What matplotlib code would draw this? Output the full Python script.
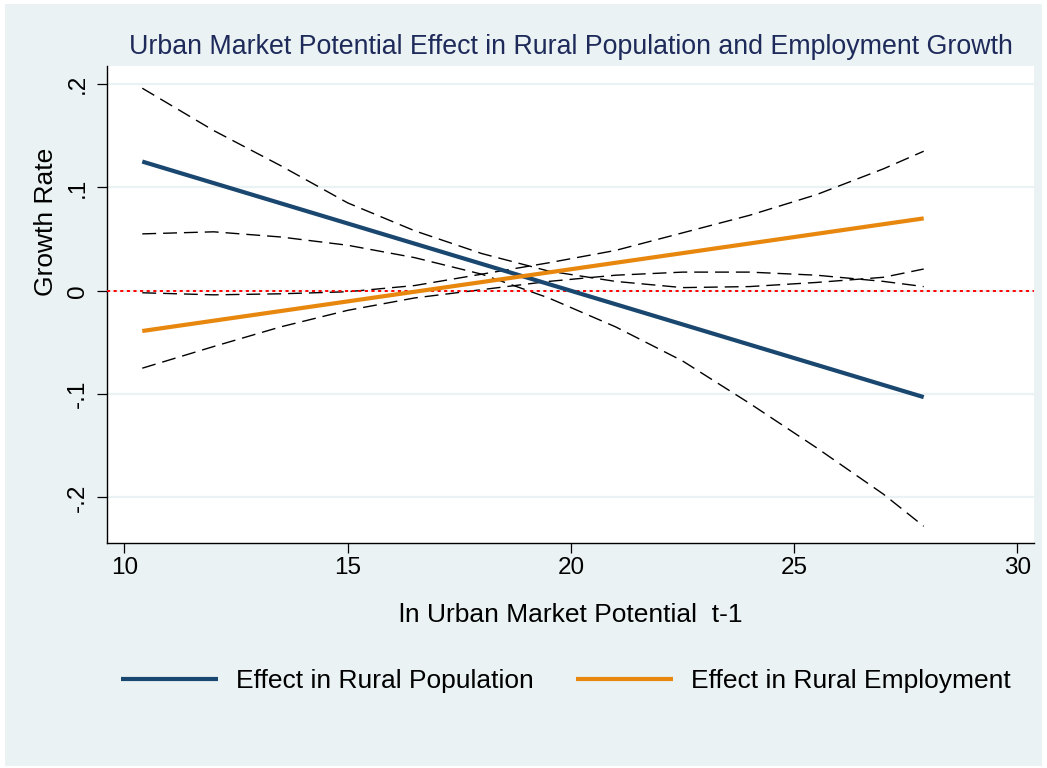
import numpy as np
import matplotlib
matplotlib.use('Agg')
import matplotlib.pyplot as plt
from matplotlib.patches import Rectangle

plt.rcParams['font.family'] = ['Liberation Sans', 'DejaVu Sans']

# point estimates (straight lines, end points)
x_ends = [10.4, 27.9]
pop_effect = [0.125, -0.103]
emp_effect = [-0.039, 0.070]

# confidence bands
x_ci = [10.4, 12, 13.5, 15, 16.5, 18, 19.5, 21, 22.5, 24, 25.5, 27, 27.9]
pop_upper = [0.196, 0.155, 0.121, 0.085, 0.058, 0.036, 0.019, 0.009, 0.003, 0.004, 0.008, 0.013, 0.021]
pop_lower = [0.055, 0.057, 0.052, 0.044, 0.032, 0.016, -0.007, -0.035, -0.068, -0.109, -0.152, -0.197, -0.228]
emp_upper = [-0.002, -0.004, -0.003, -0.001, 0.005, 0.016, 0.027, 0.039, 0.056, 0.073, 0.093, 0.118, 0.135]
emp_lower = [-0.075, -0.054, -0.035, -0.019, -0.007, 0.001, 0.009, 0.015, 0.018, 0.018, 0.015, 0.009, 0.004]

xticks = [10, 15, 20, 25, 30]
yticks = [0.2, 0.1, 0, -0.1, -0.2]
ytick_labels = ['.2', '.1', '0', '-.1', '-.2']

bg = '#EAF2F3'
blue = '#1A476F'
orange = '#E8870E'

fig = plt.figure(figsize=(10.47, 7.68), dpi=100)
fig.patch.set_facecolor('white')
fig.add_artist(Rectangle((5 / 1047, 2 / 768), 1037 / 1047, 762 / 768,
                         transform=fig.transFigure, facecolor=bg, edgecolor='none', zorder=0))

ax = fig.add_axes([107 / 1047, 1 - 543 / 768, (1034 - 107) / 1047, (543 - 66) / 768])
ax.set_facecolor('white')

for yv in yticks:
    ax.axhline(yv, color=bg, lw=1.6, zorder=1)

dash = (0, (10, 5))
for band in [pop_upper, pop_lower, emp_upper, emp_lower]:
    ax.plot(x_ci, band, color='black', lw=1.0, linestyle=dash, zorder=2)

ax.axhline(0, color='red', lw=1.4, linestyle=(0, (1.6, 1.8)), zorder=3)

l1, = ax.plot(x_ends, pop_effect, color=blue, lw=3.0, solid_capstyle='butt', zorder=4,
              label='Effect in Rural Population')
l2, = ax.plot(x_ends, emp_effect, color=orange, lw=3.0, solid_capstyle='butt', zorder=4,
              label='Effect in Rural Employment')

ax.set_xlim(9.61, 30.37)
ax.set_ylim(-0.2442, 0.2175)
ax.set_xticks(xticks)
ax.set_xticklabels([str(t) for t in xticks], fontsize=17.5)
ax.set_yticks(yticks)
ax.set_yticklabels(ytick_labels, fontsize=17.5, rotation=90, va='center')
ax.tick_params(axis='both', direction='out', length=7, width=0.9, color='black')
ax.tick_params(axis='x', pad=3)
ax.tick_params(axis='y', pad=6)

for side in ['top', 'right']:
    ax.spines[side].set_visible(False)
for side in ['left', 'bottom']:
    ax.spines[side].set_linewidth(1.0)
    ax.spines[side].set_color('black')

ax.set_title('Urban Market Potential Effect in Rural Population and Employment Growth',
             fontsize=19.3, color='#1E2A5A', pad=9)
ax.set_xlabel('ln Urban Market Potential  t-1', fontsize=19, labelpad=17)
fig.text(46 / 1047, 1 - 222 / 768, 'Growth Rate', rotation=90, fontsize=19,
         ha='center', va='center')

fig.legend(handles=[l1, l2], loc='center', bbox_to_anchor=(566 / 1047, 1 - 681 / 768),
           ncol=2, frameon=False, fontsize=19, handlelength=3.67, handletextpad=0.68,
           columnspacing=1.6)

fig.savefig('out.png', dpi=100, facecolor=fig.get_facecolor())
